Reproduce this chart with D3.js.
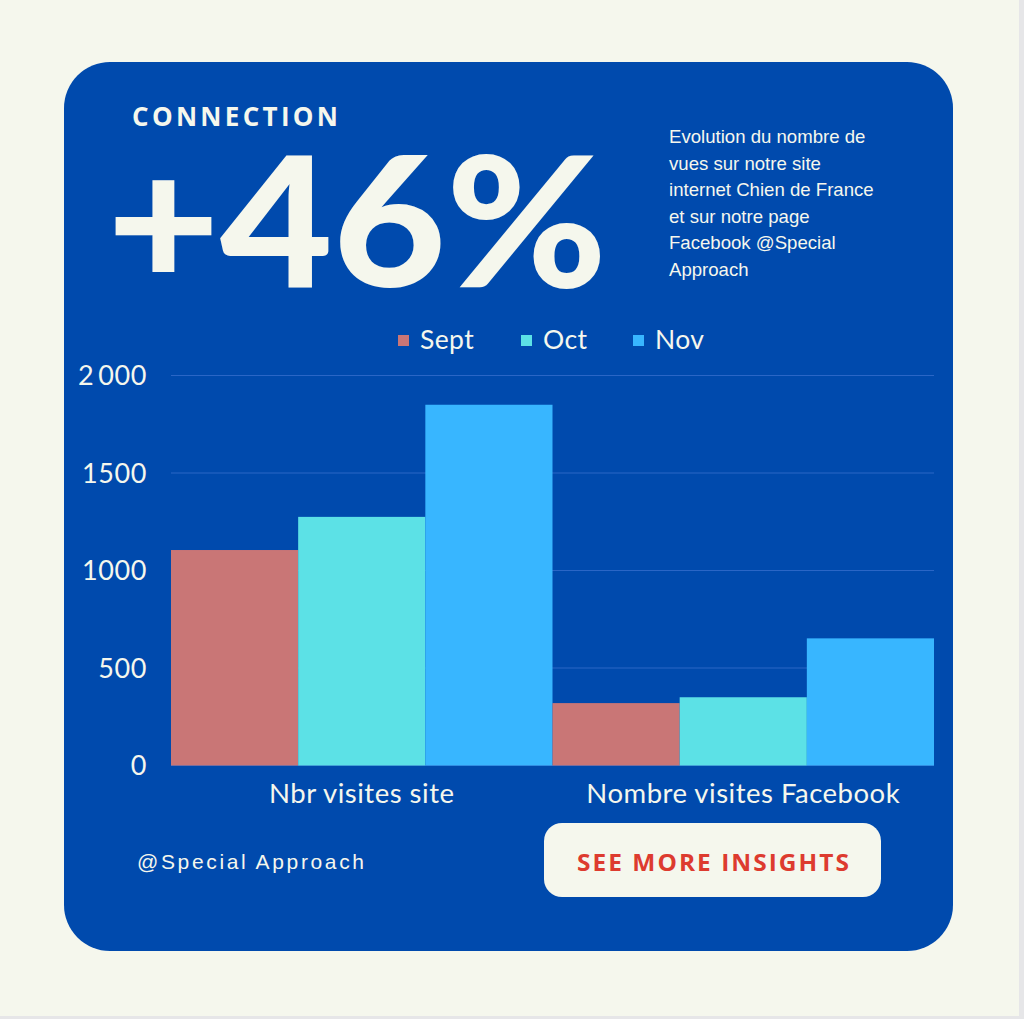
<!DOCTYPE html>
<html><head><meta charset="utf-8">
<script src="https://cdn.jsdelivr.net/npm/d3@7"></script>
<style>html,body{margin:0;padding:0;background:#f5f7ed;}svg{display:block;}</style>
</head><body>
<svg id="c" width="1024" height="1019"></svg>
<script>
const categories = ["Nbr visites site", "Nombre visites Facebook"];
const seriesNames = ["Sept", "Oct", "Nov"];
const sept = [1105, 320];
const oct = [1275, 350];
const nov = [1850, 652];
const tickValues = [0, 500, 1000, 1500, 2000];
const tickLabels = ["0", "500", "1000", "1500", "2\u2009000"];
const colors = ["#c97676", "#5ce1e6", "#38b6ff"];
const descLines = ["Evolution du nombre de", "vues sur notre site", "internet Chien de France", "et sur notre page", "Facebook @Special", "Approach"];

const svg = d3.select("#c");
const cream = "#f5f7ed", blue = "#004aad";
svg.append("rect").attr("width",1024).attr("height",1019).attr("fill",cream);
svg.append("rect").attr("x",1019).attr("y",0).attr("width",5).attr("height",1019).attr("fill","#e6e6e8");
svg.append("rect").attr("x",0).attr("y",1016).attr("width",1024).attr("height",3).attr("fill","#e6e6e8");
svg.append("rect").attr("x",64).attr("y",62).attr("width",889).attr("height",889).attr("rx",46).attr("fill",blue);

svg.append("text").attr("x",132).attr("y",126).attr("fill",cream)
  .attr("font-family","'Open Sans', sans-serif").attr("font-weight",700).attr("font-size",26)
  .attr("textLength",206).attr("lengthAdjust","spacing").text("CONNECTION");
svg.append("text").attr("x",107).attr("y",287).attr("fill",cream)
  .attr("font-family","Lato, sans-serif").attr("font-weight",900).attr("font-size",182)
  .attr("textLength",500).attr("lengthAdjust","spacingAndGlyphs").text("+46%");

svg.append("g").selectAll("text").data(descLines).join("text")
  .attr("x",669).attr("y",(d,i)=>143+i*26.6).attr("fill",cream)
  .attr("font-family","'Liberation Sans', Arial, sans-serif").attr("font-size",18.6).text(d=>d);

// chart
const data = categories.map((c,i)=>({cat:c, values:[sept[i],oct[i],nov[i]]}));
const x0 = d3.scaleBand().domain(categories).range([171,934]).padding(0);
const x1 = d3.scaleBand().domain(seriesNames).range([0,x0.bandwidth()]).padding(0);
const y = d3.scaleLinear().domain([0,2000]).range([765.5,375.5]);

const grid = svg.append("g");
grid.selectAll("line").data(tickValues).join("line")
  .attr("x1",171).attr("x2",934).attr("y1",d=>y(d)).attr("y2",d=>y(d))
  .attr("stroke","#2a66c6").attr("stroke-width",1.2);

const gBars = svg.append("g");
gBars.selectAll("g").data(data).join("g")
  .attr("transform",d=>`translate(${x0(d.cat)},0)`)
  .selectAll("rect").data(d=>d.values.map((v,i)=>({s:seriesNames[i],v,i}))).join("rect")
  .attr("x",d=>x1(d.s)).attr("width",x1.bandwidth())
  .attr("y",d=>y(d.v)).attr("height",d=>y(0)-y(d.v)).attr("fill",d=>colors[d.i]);

const yAxis = d3.axisLeft(y).tickValues(tickValues).tickFormat((d,i)=>tickLabels[i]).tickSize(0).tickPadding(0);
const ya = svg.append("g").attr("transform","translate(147,0)").call(yAxis);
ya.select(".domain").remove();
ya.selectAll("text").attr("fill",cream).attr("font-family","Lato, sans-serif").attr("font-size",27)
  .attr("letter-spacing",0.6).attr("dy","0.35em");

const xAxis = d3.axisBottom(x0).tickSize(0).tickPadding(0);
const xa = svg.append("g").attr("transform","translate(0,783)").call(xAxis);
xa.select(".domain").remove();
xa.selectAll("text").attr("fill",cream).attr("font-family","Lato, sans-serif").attr("font-size",27.5)
  .attr("letter-spacing",0.5).attr("dy","0.71em");

// legend
const legX = [398, 521, 633];
const leg = svg.append("g").selectAll("g").data(seriesNames).join("g")
  .attr("transform",(d,i)=>`translate(${legX[i]},340)`);
leg.append("rect").attr("x",0).attr("y",-5).attr("width",11).attr("height",11).attr("fill",(d,i)=>colors[i]);
leg.append("text").attr("x",22).attr("dy","0.35em").attr("fill",cream)
  .attr("font-family","Lato, sans-serif").attr("font-size",26.5).attr("letter-spacing",0.4).text(d=>d);

// footer
svg.append("text").attr("x",137).attr("y",869).attr("fill",cream)
  .attr("font-family","'Liberation Sans', Arial, sans-serif").attr("font-size",21)
  .attr("textLength",227).attr("lengthAdjust","spacing").text("@Special Approach");
svg.append("rect").attr("x",544).attr("y",823).attr("width",337).attr("height",74).attr("rx",18).attr("fill",cream);
svg.append("text").attr("x",577).attr("y",871).attr("fill","#dd3b2f")
  .attr("font-family","'Open Sans', sans-serif").attr("font-weight",700).attr("font-size",24)
  .attr("letter-spacing",2).attr("textLength",274).attr("lengthAdjust","spacingAndGlyphs").text("SEE MORE INSIGHTS");
</script>
</body></html>
